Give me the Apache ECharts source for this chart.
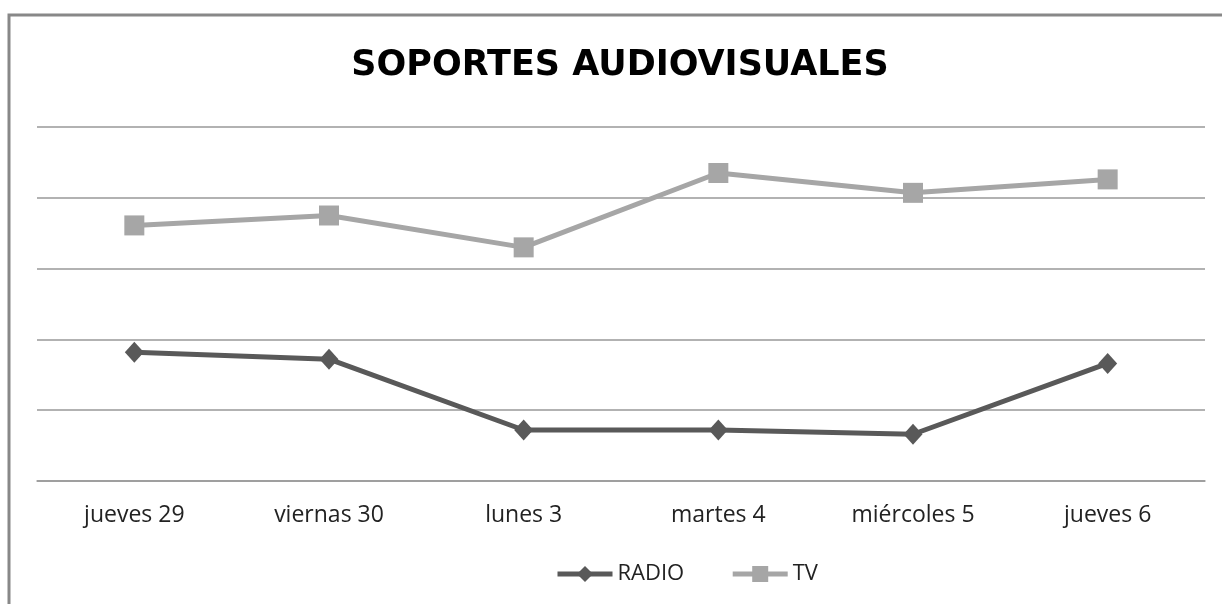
<!DOCTYPE html>
<html>
<head>
<meta charset="utf-8">
<title>Soportes audiovisuales</title>
<script src="https://cdn.jsdelivr.net/npm/echarts@6/dist/echarts.min.js"></script>
<style>
  html, body { margin: 0; padding: 0; background: #fff; }
  #chart { width: 1222px; height: 604px; }
</style>
</head>
<body>
<div id="chart"></div>
<script>
// chart data
var days = ['jueves 29', 'viernas 30', 'lunes 3', 'martes 4', 'miércoles 5', 'jueves 6']
var radio = [1.82, 1.72, 0.72, 0.72, 0.66, 1.66]
var tv = [3.61, 3.75, 3.30, 4.35, 4.07, 4.26]

var chart = echarts.init(document.getElementById('chart'))

chart.setOption({
  backgroundColor: '#fff',
  animation: false,
  // outer frame of the chart area
  graphic: [{
    type: 'rect',
    shape: { x: 9, y: 15, width: 1400, height: 800 },
    style: { fill: 'none', stroke: '#888', lineWidth: 3 },
    silent: true
  }],
  title: {
    text: 'SOPORTES AUDIOVISUALES',
    left: 615,
    top: 43,
    textAlign: 'center',
    textStyle: {
      fontFamily: 'DejaVu Sans',
      fontWeight: 'bold',
      fontSize: 35,
      color: '#000'
    }
  },
  grid: {
    left: 37,
    right: 17,
    top: 127,
    bottom: 123
  },
  legend: {
    left: 550,
    top: 558,
    itemWidth: 55,
    itemHeight: 20,
    itemGap: 46,
    lineStyle: { width: 5 },
    textStyle: {
      fontFamily: 'Open Sans',
      fontSize: 22,
      color: '#222'
    },
    data: ['RADIO', 'TV']
  },
  xAxis: {
    type: 'category',
    data: days,
    boundaryGap: true,
    axisTick: { show: false },
    axisLine: { lineStyle: { color: '#999', width: 1.5 } },
    axisLabel: {
      margin: 23,
      fontFamily: 'Open Sans',
      fontSize: 23,
      color: '#222'
    }
  },
  yAxis: {
    type: 'value',
    min: 0,
    max: 5,
    interval: 1,
    axisLabel: { show: false },
    axisLine: { show: false },
    axisTick: { show: false },
    splitLine: { lineStyle: { color: '#999', width: 1.5 } }
  },
  series: [{
    name: 'RADIO',
    type: 'line',
    data: radio,
    symbol: 'diamond',
    symbolSize: [19, 21],
    lineStyle: { color: '#595959', width: 5 },
    itemStyle: { color: '#595959' }
  }, {
    name: 'TV',
    type: 'line',
    data: tv,
    symbol: 'rect',
    symbolSize: 20,
    lineStyle: { color: '#a6a6a6', width: 5 },
    itemStyle: { color: '#a6a6a6' }
  }]
})
</script>
</body>
</html>
